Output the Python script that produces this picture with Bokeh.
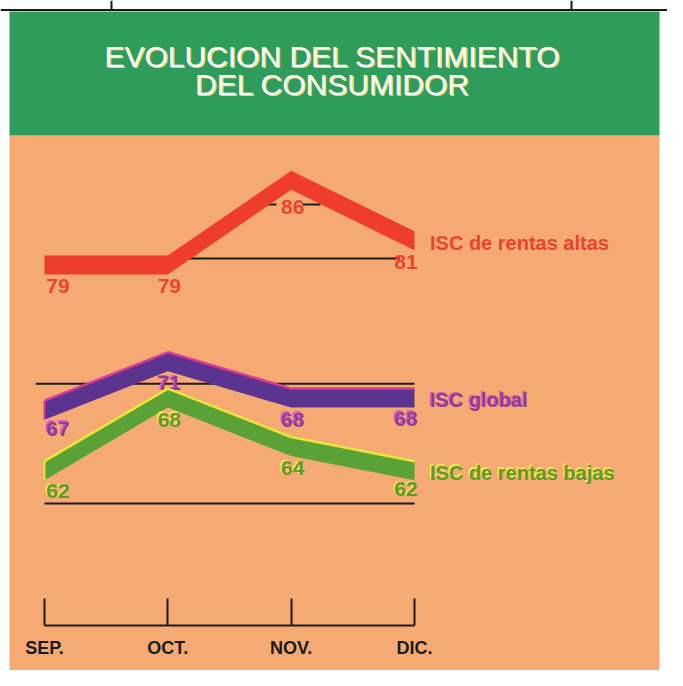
from bokeh.plotting import figure
from bokeh.models import Range1d, BoxAnnotation, ColumnDataSource, FixedTicker, Label
from bokeh.embed import file_html
from bokeh.resources import INLINE

# ---------------- data ----------------
months = ["SEP.", "OCT.", "NOV.", "DIC."]
altas = [79, 79, 86, 81]          # ISC de rentas altas
glob_ = [67, 71, 68, 68]          # ISC global
bajas = [62, 68, 64, 62]          # ISC de rentas bajas
series_names = ["ISC de rentas altas", "ISC global", "ISC de rentas bajas"]
ref_levels = [78.75, 68.4, 58.5]  # thin black guide lines
title_lines = ["EVOLUCION DEL SENTIMIENTO", "DEL CONSUMIDOR"]

# ---------------- layout helpers ----------------
W, H = 667, 670
SX = 123.33                       # px per month
SY = 12.1                         # px per index unit
X0 = -44 / SX
X1 = X0 + W / SX
Y_TOP = 79 + 255 / SY
Y_BOT = Y_TOP - H / SY
THICK = 19 / SY

def dx(px):   # picture px -> data x
    return X0 + px / SX

def dy(py):   # picture px -> data y
    return Y_TOP - py / SY

ORANGE = "#F4AA72"
GREEN_BAND = "#2F9C5C"
INK = "#1a1a1a"

p = figure(width=W, height=H, output_backend="svg", toolbar_location=None,
           x_range=Range1d(X0, X1), y_range=Range1d(Y_BOT, Y_TOP),
           min_border=0)
p.background_fill_color = "white"
p.border_fill_color = "white"
p.outline_line_color = None
p.grid.visible = False
p.yaxis.visible = False

# background panels
p.add_layout(BoxAnnotation(left=dx(9), right=dx(659), top=dy(135), bottom=Y_BOT - 1,
                           fill_color=ORANGE, fill_alpha=1, line_color=None, level="underlay"))
p.add_layout(BoxAnnotation(left=dx(9), right=dx(659), top=dy(11), bottom=dy(135),
                           fill_color=GREEN_BAND, fill_alpha=1, line_color=None, level="underlay"))
p.segment(x0=[X0, dx(111), dx(571)], y0=[dy(9.5), Y_TOP, Y_TOP],
          x1=[X1, dx(111), dx(571)], y1=[dy(9.5), dy(9.5), dy(9.5)],
          line_color=INK, line_width=2)

# title
for i, t in enumerate(title_lines):
    yy = dy(56 + 28 * i)
    p.add_layout(Label(x=dx(332) + 1.3 / SX, y=yy - 1.3 / SY, text=t, text_align="center",
                       text_baseline="middle", text_color="#E4DE6E",
                       text_font="Liberation Sans", text_font_size="30px"))
    p.add_layout(Label(x=dx(332), y=yy, text=t, text_align="center",
                       text_baseline="middle", text_color="white",
                       text_font="Liberation Sans", text_font_size="30px"))

xs = list(range(len(months)))

# reference lines (behind ribbons)
p.segment(x0=[1.0, -0.07, 0.0], y0=ref_levels, x1=[2.88, 3.0, 3.0], y1=ref_levels,
          line_color=INK, line_width=2)
# small dashes around the 86 label
p.segment(x0=[dx(265), dx(302)], y0=[dy(204)] * 2, x1=[dx(276), dx(320)], y1=[dy(204)] * 2,
          line_color=INK, line_width=2)

styles = [
    dict(vals=altas, fill="#EE3D2B", edge=None, txt="#EA4330", shadow=None, yo=[30, 30, 36, 31]),
    dict(vals=glob_, fill="#5B3490", edge="#D7399A", txt="#8E3C96", shadow="#E060B0", yo=[28, 31, 31, 30]),
    dict(vals=bajas, fill="#5BA236", edge="#ECE43A", txt="#62982C", shadow="#F0E84A", yo=[30, 31, 31, 28]),
]

for s, name in zip(styles, series_names):
    v = s["vals"]
    lo = [a - THICK for a in v]
    p.varea(x=xs, y1=lo, y2=v, fill_color=s["fill"])
    if s["edge"]:
        p.line(x=xs, y=v, line_color=s["edge"], line_width=2.5)
        p.segment(x0=[0], y0=[v[0]], x1=[0], y1=[lo[0]], line_color=s["edge"], line_width=2)
    if s["shadow"]:
        src = ColumnDataSource(dict(x=xs, y=v, t=[str(a) for a in v], xo=[12, 0, 0, -10],
                                    yo=[o - 1.5 for o in s["yo"]]))
        p.text(x="x", y="y", text="t", source=src, x_offset={"field": "xo"},
               y_offset={"field": "yo"},
               text_align="center", text_baseline="middle", text_color=s["shadow"],
               text_font={"value": "Liberation Sans"}, text_font_size="21px",
               text_font_style="bold")
    src2 = ColumnDataSource(dict(x=xs, y=v, t=[str(a) for a in v], xo=[13.5, 1.5, 1.5, -8.5],
                                 yo=s["yo"]))
    p.text(x="x", y="y", text="t", source=src2, x_offset={"field": "xo"},
           y_offset={"field": "yo"},
           text_align="center", text_baseline="middle", text_color=s["txt"],
           text_font={"value": "Liberation Sans"}, text_font_size="21px",
           text_font_style="bold")
    # series name
    if s["shadow"]:
        p.text(x=[xs[-1]], y=[v[-1]], text=[name], x_offset=14, y_offset=10,
               text_align="left", text_baseline="middle", text_color=s["shadow"],
               text_font={"value": "Liberation Sans"}, text_font_size="20px",
               text_font_style="bold")
    p.text(x=[xs[-1]], y=[v[-1]], text=[name], x_offset=15.5, y_offset=11.5,
           text_align="left", text_baseline="middle", text_color=s["txt"],
           text_font={"value": "Liberation Sans"}, text_font_size="20px",
           text_font_style="bold")

# x axis, drawn at a fixed height inside the orange panel
ax = p.xaxis[0]
ax.fixed_location = dy(625)
ax.ticker = FixedTicker(ticks=xs)
ax.bounds = (xs[0], xs[-1])
ax.major_label_overrides = {i: m for i, m in enumerate(months)}
ax.minor_tick_line_color = None
ax.major_tick_in = 27
ax.major_tick_out = 0
ax.major_tick_line_width = 2
ax.major_tick_line_color = INK
ax.axis_line_width = 2
ax.axis_line_color = INK
ax.major_label_standoff = 12
ax.major_label_text_font = "Liberation Sans"
ax.major_label_text_font_size = "18px"
ax.major_label_text_font_style = "bold"
ax.major_label_text_color = INK

open("out.html", "w").write(file_html(p, INLINE))
